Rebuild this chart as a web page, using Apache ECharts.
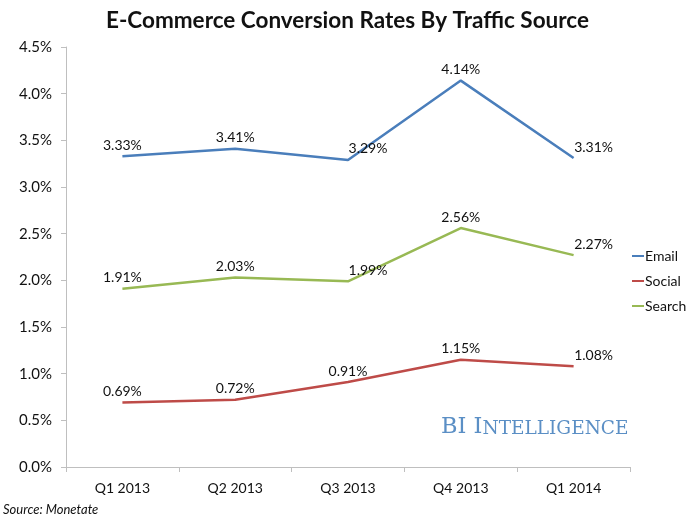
<!DOCTYPE html>
<html>
<head>
<meta charset="utf-8">
<script src="https://cdn.jsdelivr.net/npm/echarts@6/dist/echarts.min.js"></script>
<style>
  html, body { margin: 0; padding: 0; background: #fff; }
  #chart { width: 695px; height: 521px; }
</style>
</head>
<body>
<div id="chart"></div>
<script>
// ---- DATA ----
const quarters = ['Q1 2013', 'Q2 2013', 'Q3 2013', 'Q4 2013', 'Q1 2014'];
const email = [3.33, 3.41, 3.29, 4.14, 3.31];
const social = [0.69, 0.72, 0.91, 1.15, 1.08];
const search = [1.91, 2.03, 1.99, 2.56, 2.27];
const yTicks = [0, 0.5, 1, 1.5, 2, 2.5, 3, 3.5, 4, 4.5];

const FONT = 'Lato, "Open Sans", sans-serif';

// label nudges (the original shifts some labels right of the point)
function labelShift(name, i) {
  if (i === 4) return [20, 0];
  if (i === 2 && name !== 'Social') return [20, 0];
  return [0, 0];
}

function makeSeries(name, values, color) {
  return {
    name,
    type: 'line',
    data: values.map((v, i) => ({
      value: v,
      label: { offset: labelShift(name, i) }
    })),
    symbol: 'circle',
    symbolSize: 0,
    showAllSymbol: true,
    lineStyle: { color, width: 2.5 },
    itemStyle: { color },
    label: {
      show: true,
      position: 'top',
      distance: 4,
      color: '#111',
      fontFamily: FONT,
      fontSize: 14,
      formatter: p => p.value.toFixed(2) + '%'
    }
  };
}

const chart = echarts.init(document.getElementById('chart'));
chart.setOption({
  animation: false,
  backgroundColor: '#fff',
  title: {
    text: 'E-Commerce Conversion Rates By Traffic Source',
    left: 'center',
    top: 4,
    textStyle: { fontFamily: FONT, fontSize: 22.5, fontWeight: 'bold', color: '#111' }
  },
  grid: { left: 66, right: 65, top: 47, bottom: 54 },
  legend: {
    orient: 'vertical',
    left: 627,
    top: 244,
    itemGap: 11,
    itemWidth: 12,
    itemHeight: 2,
    icon: 'rect',
    textStyle: { fontFamily: FONT, fontSize: 14, color: '#111', padding: [0, 0, 0, -4] },
    data: ['Email', 'Social', 'Search']
  },
  xAxis: {
    type: 'category',
    data: quarters,
    boundaryGap: true,
    axisLine: { lineStyle: { color: '#bfbfbf', width: 1 } },
    axisTick: { show: true, length: 5, lineStyle: { color: '#bfbfbf' } },
    axisLabel: { color: '#111', fontFamily: FONT, fontSize: 14, margin: 14 },
    splitLine: { show: false }
  },
  yAxis: {
    type: 'value',
    min: yTicks[0],
    max: yTicks[yTicks.length - 1],
    interval: 0.5,
    axisLine: { show: true, lineStyle: { color: '#bfbfbf', width: 1 } },
    axisTick: { show: true, length: 5, lineStyle: { color: '#bfbfbf' } },
    axisLabel: {
      color: '#111', fontFamily: FONT, fontSize: 15, margin: 14,
      formatter: v => v.toFixed(1) + '%'
    },
    splitLine: { show: false }
  },
  graphic: [
    {
      type: 'text',
      left: 441,
      top: 416,
      style: {
        text: '{a|BI I}{b|NTELLIGENCE}',
        rich: {
          a: { fontFamily: '"DejaVu Serif", serif', fontSize: 22.5, fill: '#5b8fc5', verticalAlign: 'bottom', lineHeight: 24 },
          b: { fontFamily: '"DejaVu Serif", serif', fontSize: 18.5, fill: '#5b8fc5', verticalAlign: 'bottom', lineHeight: 24 }
        }
      }
    },
    {
      type: 'text',
      left: 3,
      top: 503,
      style: {
        text: 'Source: Monetate',
        fontFamily: FONT,
        fontStyle: 'italic',
        fontSize: 13,
        fill: '#111'
      }
    }
  ],
  series: [
    makeSeries('Email', email, '#4a7ebb'),
    makeSeries('Social', social, '#be4b48'),
    makeSeries('Search', search, '#98b954')
  ]
});
</script>
</body>
</html>
